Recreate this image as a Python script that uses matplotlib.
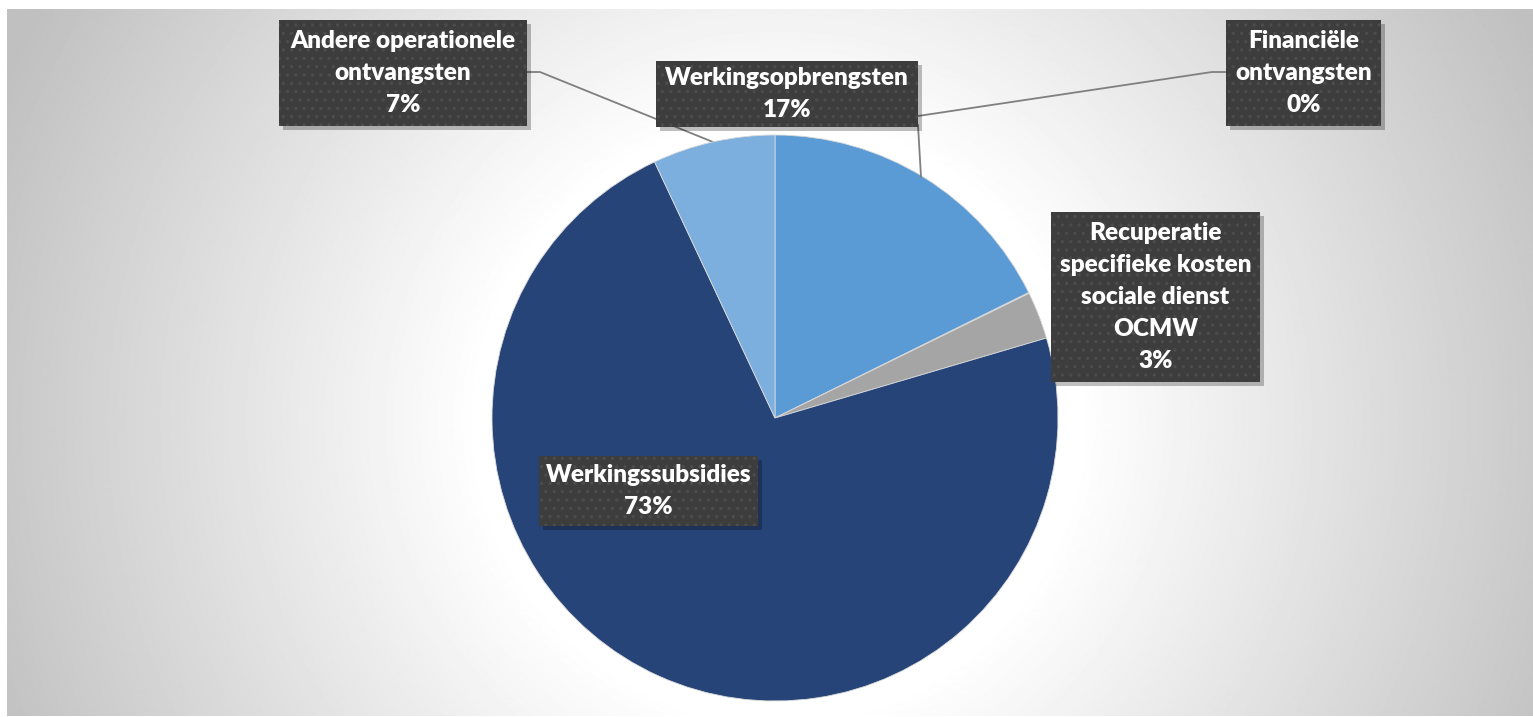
import matplotlib.pyplot as plt
import numpy as np
from matplotlib.patches import Rectangle

plt.rcParams['font.family'] = ['Lato', 'DejaVu Sans']

# slice data, clockwise from 12 o'clock
categories = ['Werkingsopbrengsten', 'Financiële\nontvangsten',
              'Recuperatie\nspecifieke kosten\nsociale dienst\nOCMW',
              'Werkingssubsidies', 'Andere operationele\nontvangsten']
values = [17.7, 0.05, 2.7, 72.6, 7.0]
pct_labels = ['17%', '0%', '3%', '73%', '7%']
colors = ['#5B9BD5', '#4472C4', '#A5A5A5', '#264478', '#7CAFDD']

W, H = 1533, 717
fig = plt.figure(figsize=(W / 100, H / 100), dpi=100)
fig.patch.set_facecolor('white')
ax = fig.add_axes([0, 0, 1, 1])

# radial gray background of the chart area, white round the pie
yy, xx = np.mgrid[0:H, 0:W]
d = np.sqrt((xx - 775.0) ** 2 + (yy - 418.0) ** 2)
shade = np.clip(1.0 - 0.00045 * (d - 300), 0.75, 1.0)
ax.imshow(shade, cmap='gray', vmin=0, vmax=1, extent=(7, W, 1, H - 9),
          origin='upper', zorder=0, interpolation='bilinear')


def py(y):
    return H - y


cx, cy, r = 775, py(418), 283
wedges, _ = ax.pie(values, colors=colors, startangle=90, counterclock=False,
                   center=(cx, cy), radius=r, frame=True,
                   wedgeprops=dict(edgecolor='#d9d9d9', linewidth=0.6))
for w in wedges:
    w.set_zorder(2)

# leader lines
lc = '#7f7f7f'
ax.plot([527, 540, 713], [py(72), py(72), py(142)], color=lc, lw=1.3, zorder=1.5)
ax.plot([1225, 1212, 918], [py(72), py(72), py(116)], color=lc, lw=1.3, zorder=1.5)
ax.plot([918, 921], [py(125), py(177)], color=lc, lw=1.3, zorder=3)

# label boxes: (x0, y0, x1, y1) in pixels
boxes = [(656, 61, 918, 127), (1226, 20, 1381, 126), (1051, 212, 1260, 382),
         (539, 456, 758, 526), (279, 20, 527, 126)]

plt.rcParams['hatch.linewidth'] = 1.2
for cat, pct, (x0, y0, x1, y1) in zip(categories, pct_labels, boxes):
    ax.add_patch(Rectangle((x0 + 4, py(y1) - 4), x1 - x0, y1 - y0,
                           facecolor='black', alpha=0.25, lw=0, zorder=4))
    ax.add_patch(Rectangle((x0, py(y1)), x1 - x0, y1 - y0,
                           facecolor='#3d3d3d', lw=0, zorder=5))
    ax.add_patch(Rectangle((x0, py(y1)), x1 - x0, y1 - y0, facecolor='none',
                           edgecolor='#4c4c4c', hatch='..', lw=0, zorder=5.5))
    ax.text((x0 + x1) / 2, py((y0 + y1) / 2), cat + '\n' + pct,
            ha='center', va='center', color='white', fontsize=17.5,
            fontweight='heavy', linespacing=1.55, zorder=6)

ax.set_xlim(0, W)
ax.set_ylim(0, H)
ax.set_axis_off()

fig.savefig('out.png', dpi=100, facecolor='white')
